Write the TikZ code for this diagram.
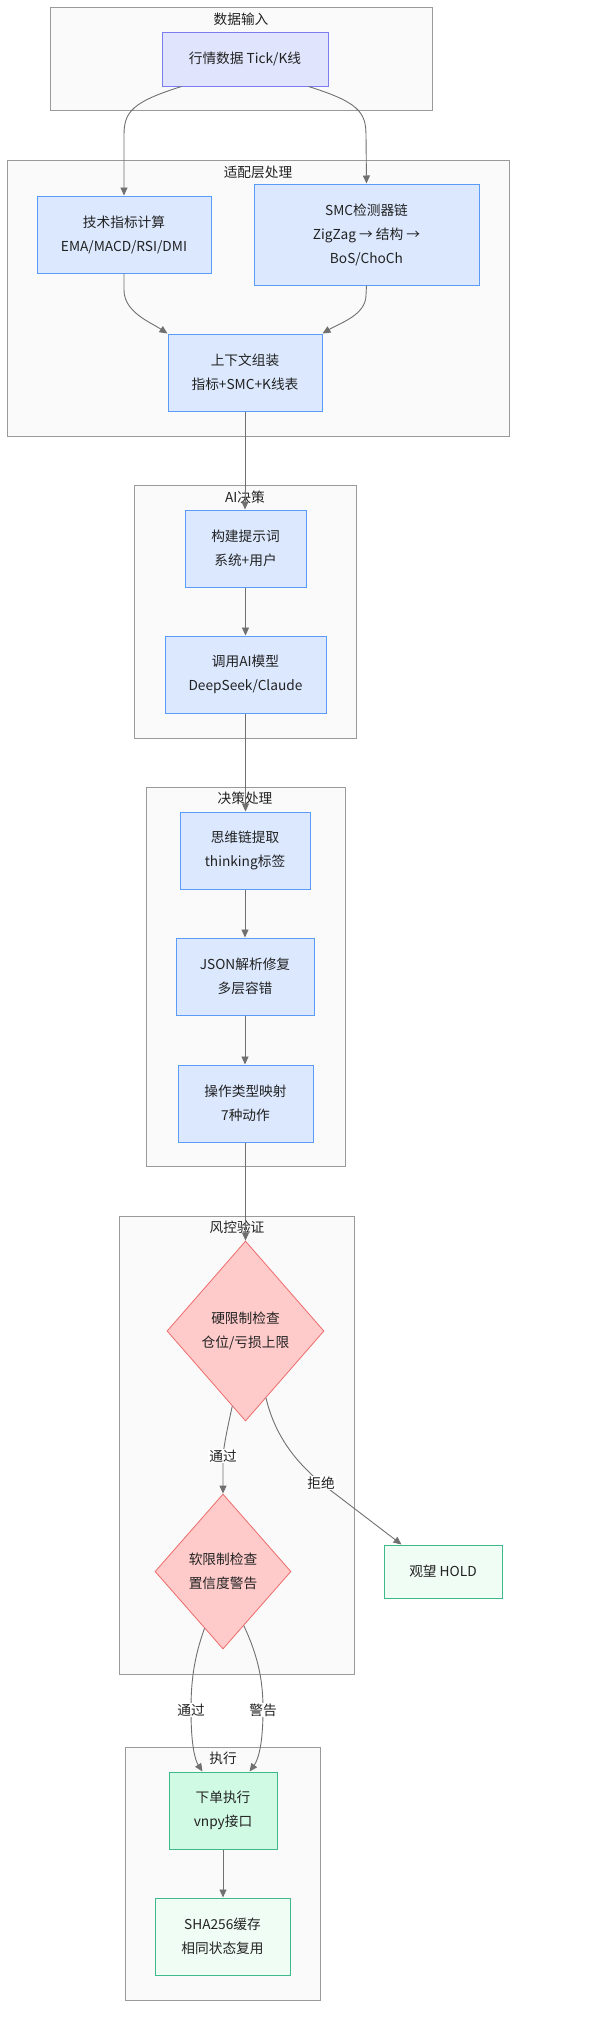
\documentclass[tikz,border=0pt]{standalone}
\usepackage{fontspec}
\setmainfont{Noto Sans CJK SC}
\usetikzlibrary{shapes.geometric,arrows.meta,calc}
\definecolor{clfill}{HTML}{FAFAFA}
\definecolor{cldraw}{HTML}{9A9A9A}
\definecolor{infill}{HTML}{E0E4FC}
\definecolor{indraw}{HTML}{7C7CEE}
\definecolor{bfill}{HTML}{DBE8FE}
\definecolor{bdraw}{HTML}{5B9BF8}
\definecolor{rfill}{HTML}{FECACA}
\definecolor{rdraw}{HTML}{EF6B6B}
\definecolor{gfill}{HTML}{D1FAE5}
\definecolor{glight}{HTML}{F0FDF4}
\definecolor{gdraw}{HTML}{3FB98A}
\definecolor{edge}{HTML}{707070}
\definecolor{txt}{HTML}{222222}
\tikzset{
  base/.style={inner sep=0pt, align=center, text=txt, font=\fontsize{13.7pt}{24pt}\selectfont},
  cluster/.style={draw=cldraw, fill=clfill, line width=0.9pt},
  ctitle/.style={base, anchor=center},
  inbox/.style={base, rectangle, draw=indraw, fill=infill, line width=1pt},
  bbox/.style={base, rectangle, draw=bdraw, fill=bfill, line width=1pt},
  gbox/.style={base, rectangle, draw=gdraw, fill=gfill, line width=1pt},
  glbox/.style={base, rectangle, draw=gdraw, fill=glight, line width=1pt},
  dia/.style={base, diamond, draw=rdraw, fill=rfill, line width=0.8pt},
  conn/.style={draw=edge, line width=0.9pt, -{Triangle[length=8pt,width=7pt]}},
  elabel/.style={base, fill=white, inner sep=1pt}
}
\begin{document}
\begin{tikzpicture}[x=1pt,y=-1pt]
\useasboundingbox (0,0) rectangle (598,2035);
\fill[white] (0,0) rectangle (598,2035);
% clusters
\draw[cluster] (50,7) rectangle (432,110);
\node[ctitle] (t1) at (241,19) {数据输入};
\draw[cluster] (7,160) rectangle (509,436);
\node[ctitle] (t2) at (258,172) {适配层处理};
\draw[cluster] (134,485) rectangle (356,738);
\node[ctitle] (t3) at (245,497) {AI决策};
\draw[cluster] (146,787) rectangle (345,1166);
\node[ctitle] (t4) at (245,798) {决策处理};
\draw[cluster] (119,1216) rectangle (354,1674);
\node[ctitle] (t5) at (237,1227) {风控验证};
\draw[cluster] (125,1747) rectangle (320,2000);
\node[ctitle] (t6) at (223,1758) {执行};
% nodes
\node[inbox, minimum width=166pt, minimum height=54pt] (in) at (245,59) {行情数据 Tick/K线};
\node[bbox, minimum width=174pt, minimum height=77pt] (tech) at (124,234.5) {技术指标计算\\EMA/MACD/RSI/DMI};
\node[bbox, minimum width=225pt, minimum height=101pt] (smc) at (366.5,234.5) {SMC检测器链\\ZigZag → 结构 →\\BoS/ChoCh};
\node[bbox, minimum width=154pt, minimum height=77pt] (ctx) at (245,372.5) {上下文组装\\指标+SMC+K线表};
\node[bbox, minimum width=121pt, minimum height=77pt] (prompt) at (245.5,548.5) {构建提示词\\系统+用户};
\node[bbox, minimum width=161pt, minimum height=77pt] (model) at (245.5,674.5) {调用AI模型\\DeepSeek/Claude};
\node[bbox, minimum width=130pt, minimum height=77pt] (think) at (245,850.5) {思维链提取\\thinking标签};
\node[bbox, minimum width=138pt, minimum height=77pt] (json) at (245,976.5) {JSON解析修复\\多层容错};
\node[bbox, minimum width=135pt, minimum height=77pt] (map) at (245.5,1103.5) {操作类型映射\\7种动作};
\node[dia, minimum width=157pt, minimum height=180pt] (hard) at (245.5,1331) {硬限制检查\\仓位/亏损上限};
\node[dia, minimum width=136pt, minimum height=155pt] (soft) at (223,1571.5) {软限制检查\\置信度警告};
\node[glbox, minimum width=118pt, minimum height=53pt] (hold) at (443,1571.5) {观望 HOLD};
\node[gbox, minimum width=108pt, minimum height=77pt] (order) at (223,1810.5) {下单执行\\vnpy接口};
\node[glbox, minimum width=135pt, minimum height=77pt] (sha) at (222.5,1936.5) {SHA256缓存\\相同状态复用};
% connectors
\draw[conn] ($(in.south west)+(20,0)$) .. controls (132,102) and (124,112) .. (124,135) -- (tech.north);
\draw[conn] ($(in.south east)+(-20,0)$) .. controls (358,102) and (366,112) .. (366,135) -- (smc.north);
\draw[conn] (tech.south) -- (124,290) .. controls (124,312) and (150,322) .. ($(ctx.north west)+(0,0)$);
\draw[conn] (smc.south) -- (366,295) .. controls (366,315) and (340,323) .. ($(ctx.north east)+(0,0)$);
\draw[conn] (ctx.south) -- (ctx.south |- prompt.north);
\draw[conn] (prompt.south) -- (prompt.south |- model.north);
\draw[conn] (model.south) -- (model.south |- think.north);
\draw[conn] (think.south) -- (think.south |- json.north);
\draw[conn] (json.south) -- (json.south |- map.north);
\draw[conn] (map.south) -- (map.south |- hard.north);
\draw[conn] (hard.-100) .. controls (227,1430) and (224,1445) .. (223,1456) -- (soft.north);
\node[elabel] (l1) at (223,1456) {通过};
\draw[conn] (hard.-73) .. controls (276,1440) and (300,1465) .. (321,1483) -- ($(hold.north west)+(18,0)$);
\node[elabel] (l2) at (321,1483) {拒绝};
\draw[conn] (soft.-108) .. controls (193,1660) and (191,1685) .. (191,1710) .. controls (191,1745) and (195,1760) .. ($(order.north west)+(34,0)$);
\node[elabel] (l3) at (191,1710) {通过};
\draw[conn] (soft.-69) .. controls (260,1660) and (263,1685) .. (263,1710) .. controls (263,1745) and (258,1760) .. ($(order.north east)+(-28,0)$);
\node[elabel] (l4) at (263,1710) {警告};
\draw[conn] (order.south) -- (order.south |- sha.north);
\end{tikzpicture}
\end{document}
